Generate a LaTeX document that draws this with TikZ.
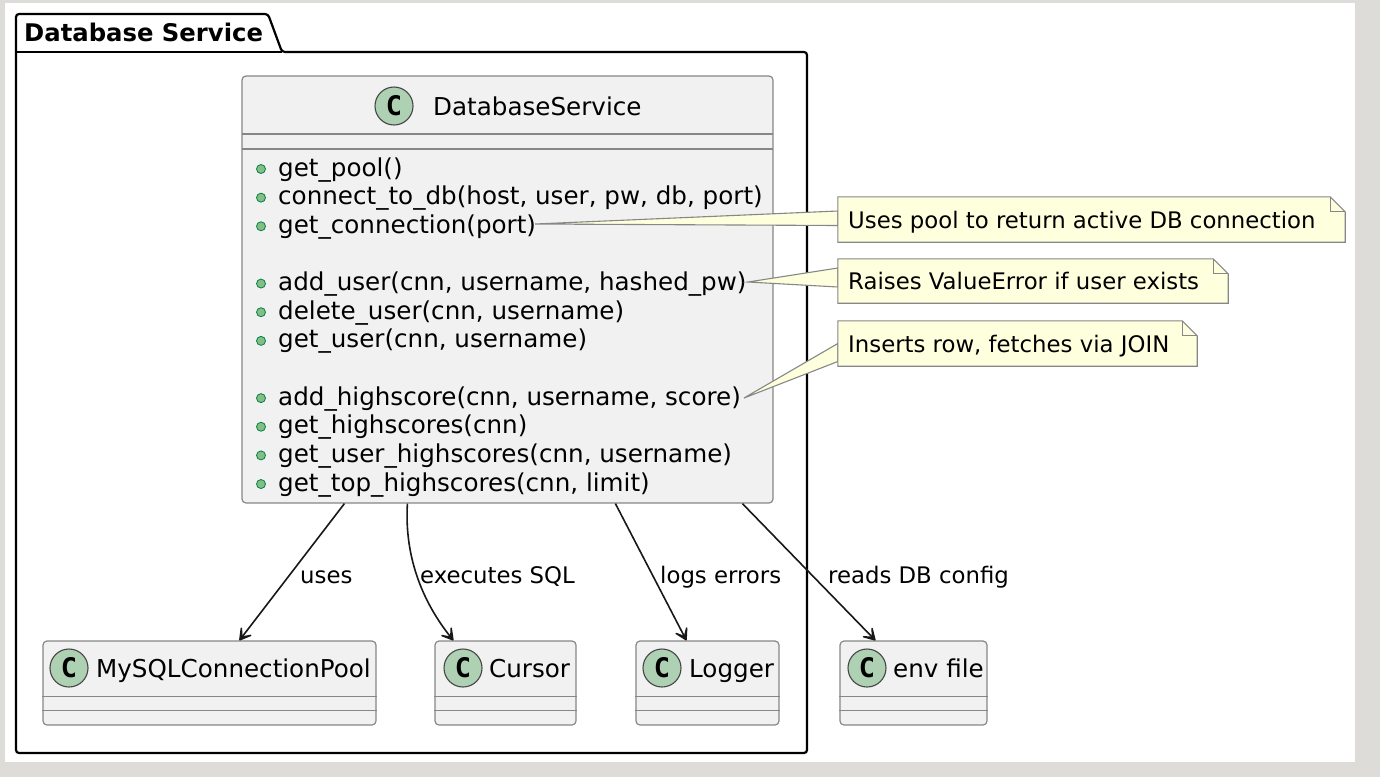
\documentclass[tikz,border=0pt]{standalone}
\usepackage{fontspec}
\setmainfont{DejaVu Sans}
\newfontfamily\iconfont{DejaVu Sans Mono}
\usetikzlibrary{arrows.meta,calc}
\definecolor{bgray}{RGB}{221,220,216}
\definecolor{clsfill}{HTML}{F1F1F1}
\definecolor{clsborder}{RGB}{135,135,135}
\definecolor{notefill}{HTML}{FEFFDD}
\definecolor{iconfill}{HTML}{ADD1B2}
\definecolor{iconborder}{RGB}{70,70,70}
\definecolor{dotfill}{HTML}{84BE84}
\definecolor{dotborder}{HTML}{038048}
\definecolor{arrc}{HTML}{181818}
\tikzset{
  classbox/.style={draw=clsborder, fill=clsfill, line width=1.2pt, rounded corners=4pt, inner sep=0pt},
  sepline/.style={draw=clsborder, line width=1.1pt},
  notebox/.style={inner sep=0pt, draw=none},
  noteline/.style={draw=clsborder, fill=notefill, line width=1.1pt},
  icon/.style={circle, draw=iconborder, fill=iconfill, line width=1.1pt, minimum size=38pt, inner sep=0pt,
    font=\iconfont\bfseries\fontsize{27}{27}\selectfont},
  dot/.style={circle, draw=dotborder, fill=dotfill, line width=0.8pt, minimum size=9pt, inner sep=0pt},
  mtext/.style={anchor=base west, inner sep=0pt, font=\fontsize{24.6}{29}\selectfont},
  ntext/.style={anchor=base west, inner sep=0pt, font=\fontsize{22.8}{27}\selectfont},
  arr/.style={draw=arrc, line width=1.6pt, -{Stealth[length=18pt,width=21pt,inset=12pt,round]}},
}
\begin{document}
\begin{tikzpicture}[x=1pt,y=-1pt]
\fill[bgray] (0,0) rectangle (1380,777);
\fill[white] (5,3) rectangle (1355,762);
\useasboundingbox (0,0) rectangle (1380,777);

% package
\draw[black, line width=2.2pt, fill=white, rounded corners=3pt]
  (16,753) -- (16,14) -- (268,14) -- (282,52) -- (807,52) -- (807,753) -- cycle;
\draw[black, line width=2.2pt] (16,52) -- (282,52);
\node[anchor=base west, inner sep=0pt, font=\bfseries\fontsize{24.3}{29}\selectfont] (pkgtitle) at (24,41) {Database Service};

% main class
\node[classbox, minimum width=531pt, minimum height=427pt] (ds) at (507.5,289.5) {};
\draw[sepline] (242,134) -- (773,134);
\draw[sepline] (242,149) -- (773,149);
\node[icon] (dsicon) at (394,106) {C};
\node[mtext] (dstitle) at (433,115) {DatabaseService};
\foreach \i/\t in {0/{get\_pool()},
                   1/{connect\_to\_db(host, user, pw, db, port)},
                   2/{get\_connection(port)},
                   4/{add\_user(cnn, username, hashed\_pw)},
                   5/{delete\_user(cnn, username)},
                   6/{get\_user(cnn, username)},
                   8/{add\_highscore(cnn, username, score)},
                   9/{get\_highscores(cnn)},
                   10/{get\_user\_highscores(cnn, username)},
                   11/{get\_top\_highscores(cnn, limit)}} {
  \node[dot] (d\i) at (261,{169+28.64*\i}) {};
  \node[mtext] (m\i) at (278,{176+28.64*\i}) {\t};
}

% small classes
\node[classbox, minimum width=333pt, minimum height=84pt] (pool) at (209.5,683) {};
\node[classbox, minimum width=141pt, minimum height=84pt] (cursor) at (505.5,683) {};
\node[classbox, minimum width=143pt, minimum height=84pt] (logger) at (707.5,683) {};
\node[classbox, minimum width=147pt, minimum height=84pt] (env) at (913.5,683) {};
\foreach \n in {pool,cursor,logger,env} {
  \draw[sepline] ($(\n.north west)+(0,56)$) -- ($(\n.north east)+(0,56)$);
  \draw[sepline] ($(\n.north west)+(0,70)$) -- ($(\n.north east)+(0,70)$);
}
\node[icon] (poolicon) at (69,668) {C};
\node[mtext] (pooltitle) at (96,677) {MySQLConnectionPool};
\node[icon] (cursoricon) at (463,668) {C};
\node[mtext] (cursortitle) at (489,677) {Cursor};
\node[icon] (loggericon) at (662,668) {C};
\node[mtext] (loggertitle) at (689,677) {Logger};
\node[icon] (envicon) at (867,668) {C};
\node[mtext] (envtitle) at (893,677) {env file};

% arrows
\draw[arr] ($(ds.south west)+(103,0)$) -- ($(pool.north west)+(197,0)$);
\draw[arr] ($(ds.south west)+(166,0)$) .. controls (404,560) and (425,605) .. ($(cursor.north west)+(19,0)$);
\draw[arr] ($(ds.south west)+(374,0)$) -- ($(logger.north west)+(51,0)$);
\draw[arr] ($(ds.south west)+(501,0)$) -- ($(env.north west)+(36,0)$);
\node[ntext] (l1) at (300,583) {uses};
\node[ntext] (l2) at (420,583) {executes SQL};
\node[ntext] (l3) at (660,583) {logs errors};
\node[ntext] (l4) at (828,583) {reads DB config};

% notes
\node[notebox, minimum width=507pt, minimum height=45pt] (n1) at (1091.5,219.5) {};
\node[notebox, minimum width=390pt, minimum height=44pt] (n2) at (1033,281) {};
\node[notebox, minimum width=359pt, minimum height=45pt] (n3) at (1017.5,343.5) {};
\coordinate (t1) at (535,224);
\coordinate (t2) at (748,282);
\coordinate (t3) at (744,398);
\draw[noteline] (t1) -- ($(n1.west)+(0,-8.5)$) -- ($(n1.west)+(0,6)$) -- cycle;
\draw[noteline] (t2) -- ($(n2.west)+(0,-13)$) -- ($(n2.west)+(0,6)$) -- cycle;
\draw[noteline] (t3) -- ($(n3.west)+(0,0)$) -- ($(n3.west)+(0,18)$) -- cycle;
\foreach \n in {n1,n2,n3} {
  \draw[noteline] (\n.north west) -- ($(\n.north east)+(-15,0)$) -- ($(\n.north east)+(0,15)$)
     -- (\n.south east) -- (\n.south west) -- cycle;
  \draw[draw=clsborder, line width=1.1pt] ($(\n.north east)+(-15,0)$) -- ($(\n.north east)+(-15,15)$) -- ($(\n.north east)+(0,15)$);
}
\node[ntext] (n1t) at (848,228) {Uses pool to return active DB connection};
\node[ntext] (n2t) at (848,289.5) {Raises ValueError if user exists};
\node[ntext] (n3t) at (848,352) {Inserts row, fetches via JOIN};
\end{tikzpicture}
\end{document}
